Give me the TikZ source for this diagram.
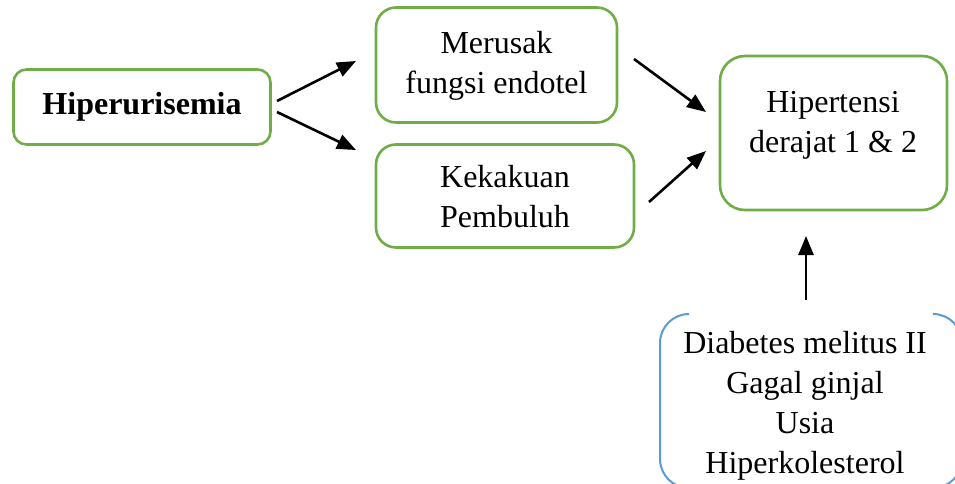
\documentclass[tikz,border=0pt]{standalone}
\usepackage{fontspec}
\setmainfont{Liberation Serif}
\usetikzlibrary{arrows.meta}
\definecolor{gbox}{HTML}{70AD47}
\definecolor{bbox}{HTML}{5B9BD5}
\tikzset{
  gnode/.style={draw=gbox, line width=2.6pt, align=center, inner sep=0pt},
  txt/.style={align=center, inner sep=0pt, font=\fontsize{32}{40}\selectfont},
  arr/.style={-{Triangle[length=19pt,width=15pt]}, line width=2.6pt, black}
}
\begin{document}
\begin{tikzpicture}[x=1pt,y=-1pt]
\useasboundingbox (0,0) rectangle (955,484);
\clip (0,0) rectangle (955,484);
% boxes
\node[gnode, rounded corners=13pt, minimum width=257pt, minimum height=75pt] (hyper) at (142,107) {};
\node[txt, anchor=base, font=\fontsize{32}{40}\selectfont\bfseries] (hypert) at (142,115) {Hiperurisemia};
\node[gnode, rounded corners=20pt, minimum width=241pt, minimum height=115pt] (merusak) at (496.5,65) {};
\node[txt] (merusakt) at (496.5,66) {Merusak\\fungsi endotel};
\node[gnode, rounded corners=20pt, minimum width=258pt, minimum height=103pt] (kaku) at (505,196) {};
\node[txt] (kakut) at (505,197) {Kekakuan\\Pembuluh};
\node[gnode, rounded corners=25pt, minimum width=227pt, minimum height=154pt] (hip) at (833.5,133) {};
\node[txt] (hipt) at (833,125.5) {Hipertensi\\derajat 1 \& 2};
% blue box (top edge partly missing, cut by page)
\draw[bbox, line width=2pt, rounded corners=29pt] (689,314) -- (660,314) -- (660,488) -- (962,488) -- (962,314) -- (933,314);
\node[txt] (risk) at (805,405.5) {Diabetes melitus II\\Gagal ginjal\\Usia\\Hiperkolesterol};
% arrow end points
\coordinate (a1s) at (277,101); \coordinate (a1e) at (356,61);
\coordinate (a2s) at (277,112); \coordinate (a2e) at (356,150);
\coordinate (a3s) at (634,59);  \coordinate (a3e) at (706,112);
\coordinate (a4s) at (649,202); \coordinate (a4e) at (706,151);
\coordinate (a5s) at (806,300); \coordinate (a5e) at (806,236);
\draw[arr] (a1s) -- (a1e);
\draw[arr] (a2s) -- (a2e);
\draw[arr] (a3s) -- (a3e);
\draw[arr] (a4s) -- (a4e);
\draw[arr] (a5s) -- (a5e);
\end{tikzpicture}
\end{document}
